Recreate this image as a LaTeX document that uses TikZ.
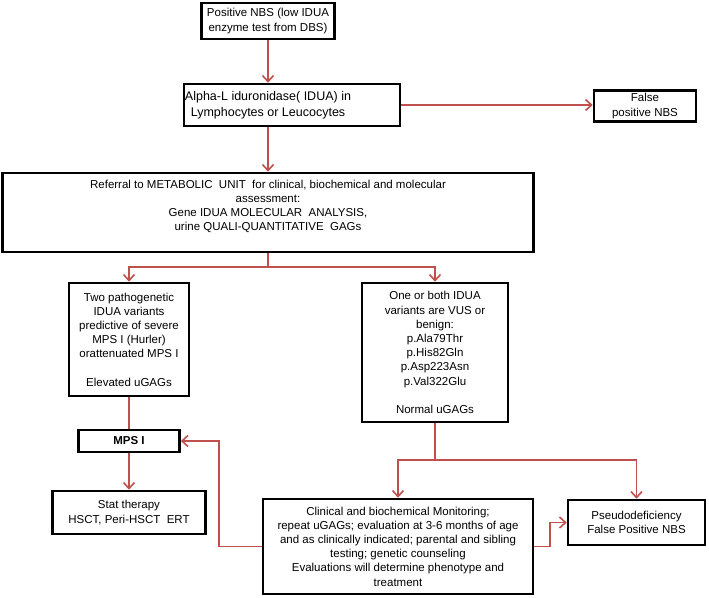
\documentclass[tikz,border=0pt]{standalone}
\usepackage{fontspec}
\setmainfont{Liberation Sans}
\usetikzlibrary{arrows.meta}
\definecolor{flowred}{RGB}{192,80,77}
\tikzset{
	fbox/.style={draw=black,line width=2.6pt,fill=white,align=center,inner sep=1pt},
	flow/.style={draw=flowred,line width=1.6pt},
}
\begin{document}
\begin{tikzpicture}[x=1pt,y=-1pt,>={Straight Barb[length=6pt,width=11pt]},font=\fontsize{11.5}{14.2}\selectfont]
	\useasboundingbox (0,0) rectangle (709,597);
	% boxes
	\node[fbox,minimum width=133pt,minimum height=36pt] (nbs) at (268,21)
		{Positive NBS (low IDUA\\enzyme test from DBS)};
	\node[fbox,minimum width=216pt,minimum height=42pt] (lymph) at (292,105) {};
	\node[align=center,font=\fontsize{12.5}{16}\selectfont] (lymphtext) at (268,105)
		{Alpha-L iduronidase( IDUA) in\\Lymphocytes or Leucocytes};
	\node[fbox,minimum width=102pt,minimum height=31pt] (falsepos) at (645,106)
		{False\\positive NBS};
	\node[fbox,minimum width=531pt,minimum height=79pt] (referral) at (268,212.5)
		{Referral to METABOLIC\ \ UNIT\ \ for clinical, biochemical and molecular\\
		assessment:\\Gene IDUA MOLECULAR\ \ ANALYSIS,\\urine QUALI-QUANTITATIVE\ \ GAGs\\\mbox{}};
	\node[fbox,minimum width=120pt,minimum height=113pt] (twovar) at (129,339.5)
		{Two pathogenetic\\IDUA variants\\predictive of severe\\MPS I (Hurler)\\orattenuated MPS I\\[14pt]Elevated uGAGs};
	\node[fbox,minimum width=146pt,minimum height=139pt] (vus) at (435,352.5)
		{One or both IDUA\\variants are VUS or\\benign:\\p.Ala79Thr\\p.His82Gln\\p.Asp223Asn\\p.Val322Glu\\[14pt]Normal uGAGs};
	\node[fbox,minimum width=101pt,minimum height=22pt,font=\fontsize{11.5}{14}\selectfont\bfseries] (mps) at (129,441) {MPS I};
	\node[fbox,minimum width=153pt,minimum height=43pt] (stat) at (129,512.5)
		{Stat therapy\\HSCT, Peri-HSCT\ \ ERT};
	\node[fbox,minimum width=270pt,minimum height=95pt] (monitor) at (398,546.5)
		{Clinical and biochemical Monitoring;\\repeat uGAGs; evaluation at 3-6 months of age\\
		and as clinically indicated; parental and sibling\\testing; genetic counseling\\
		Evaluations will determine phenotype and\\treatment};
	\node[fbox,minimum width=137pt,minimum height=45pt] (pseudo) at (636.5,522.5)
		{Pseudodeficiency\\False Positive NBS};
	% junctions
	\path
	(268,267) coordinate (split1)
	(435,460) coordinate (split2)
	(219,545) coordinate (back)
	(550,545) coordinate (jog)
	;
	% connectors
	\draw[flow,->] (nbs.south) -- (nbs.south |- lymph.north);
	\draw[flow,->] (lymph.east) -- (lymph.east -| falsepos.west);
	\draw[flow,->] (lymphtext |- lymph.south) -- (lymphtext |- referral.north);
	\draw[flow] (referral.south) -- (split1);
	\foreach \b in {twovar,vus}
	\draw[flow,->] (split1) -| (\b.north);
	\draw[flow] (twovar.south) -- (mps.north);
	\draw[flow,->] (mps.south) -- (stat.north);
	\draw[flow] (vus.south) -- (split2);
	\foreach \b in {monitor,pseudo}
	\draw[flow,->] (split2) -| (\b.north);
	\draw[flow,->] (monitor.west) -- (monitor.west -| back) |- (mps.east);
	\draw[flow,->] (monitor.east) -- (monitor.east -| jog) |- (pseudo.west);
\end{tikzpicture}
\end{document}
